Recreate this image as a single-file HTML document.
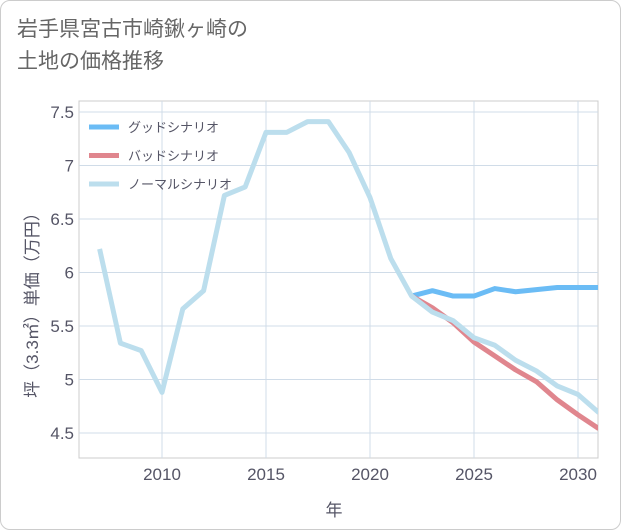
<!DOCTYPE html>
<html><head><meta charset="utf-8"><style>
body{margin:0;background:#fff;}
#card{position:absolute;left:0;top:0;width:619px;height:528px;border:1px solid #ccc;border-radius:10px;background:#fff;overflow:hidden;font-family:"Liberation Sans","Noto Sans CJK JP",sans-serif;}
#title{position:absolute;left:16px;top:13px;font-size:21px;line-height:32px;color:#666;}
</style></head><body>
<div id="card">
<div id="title">岩手県宮古市崎鍬ヶ崎の<br>土地の価格推移</div>
<svg id="chart" width="621" height="530" style="position:absolute;left:0;top:0"></svg>
</div>
<script>
const years=[2007,2008,2009,2010,2011,2012,2013,2014,2015,2016,2017,2018,2019,2020,2021,2022,2023,2024,2025,2026,2027,2028,2029,2030,2031];
const normal=[6.22,5.34,5.27,4.88,5.66,5.83,6.72,6.80,7.31,7.31,7.41,7.41,7.12,6.70,6.13,5.78,5.63,5.55,5.39,5.32,5.18,5.08,4.94,4.86,4.69];
const goodYears=[2022,2023,2024,2025,2026,2027,2028,2029,2030,2031];
const good=[5.78,5.83,5.78,5.78,5.85,5.82,5.84,5.86,5.86,5.86];
const bad=[5.78,5.67,5.53,5.35,5.22,5.09,4.98,4.81,4.67,4.54];
const xTicks=[2010,2015,2020,2025,2030];
const yTicks=[4.5,5,5.5,6,6.5,7,7.5];
const L=78,R=597,T=100,B=457;
const X=v=>161+(v-2010)*20.8;
const Y=v=>432-(v-4.5)*107;
const svg=document.getElementById('chart');
const NS='http://www.w3.org/2000/svg';
function mk(t,a,p){const e=document.createElementNS(NS,t);for(const k in a)e.setAttribute(k,a[k]);(p||svg).appendChild(e);return e;}
const frame=mk('rect',{x:L,y:T,width:R-L,height:B-T,fill:'none',stroke:'#ccc'});


xTicks.forEach(t=>{
 const g=mk('line',{x1:X(t),x2:X(t),y1:T,y2:B,stroke:'#d0dce8'});
 
 
 const tx=mk('text',{x:X(t),y:479,'text-anchor':'middle','font-size':17,fill:'#556'});
 tx.textContent=t;
 
 
});
yTicks.forEach(t=>{
 const g=mk('line',{x1:L,x2:R,y1:Y(t),y2:Y(t),stroke:'#d0dce8'});
 
 
 const tx=mk('text',{x:73,y:Y(t)+6,'text-anchor':'end','font-size':17,fill:'#556'});
 tx.textContent=t;
 
 
});
const xt=mk('text',{x:333,y:515,'text-anchor':'middle','font-size':17,fill:'#556'});
xt.textContent='年';


const yt=mk('text',{x:0,y:0,'text-anchor':'middle','font-size':17,fill:'#556',transform:'translate(37,300) rotate(-90)'});
yt.textContent='坪（3.3㎡）単価（万円）';


const clip=mk('clipPath',{id:'c'});mk('rect',{x:L,y:T,width:R-L,height:B-T},clip);
function line(xs,vs,col,name){
 const p=mk('polyline',{points:xs.map((x,i)=>X(x)+','+Y(vs[i])).join(' '),fill:'none',stroke:col,'stroke-width':5,'stroke-linejoin':'round','clip-path':'url(#c)'});
 
 
}
line(goodYears,good,'#6bbcf5','good-scenario-line');
line(goodYears,bad,'#e0868e','bad-scenario-line');
line(years,normal,'#bcdeed','normal-scenario-line');
const leg=[['グッドシナリオ','#6bbcf5'],['バッドシナリオ','#e0868e'],['ノーマルシナリオ','#bcdeed']];
leg.forEach((l,i)=>{
 const y=126+i*28.5;
 const s=mk('line',{x1:88,x2:118,y1:y,y2:y,stroke:l[1],'stroke-width':5});
 
 
 const t=mk('text',{x:127,y:y+5,'font-size':13,fill:'#556'});
 t.textContent=l[0];
 
 
});
</script>
</body></html>
